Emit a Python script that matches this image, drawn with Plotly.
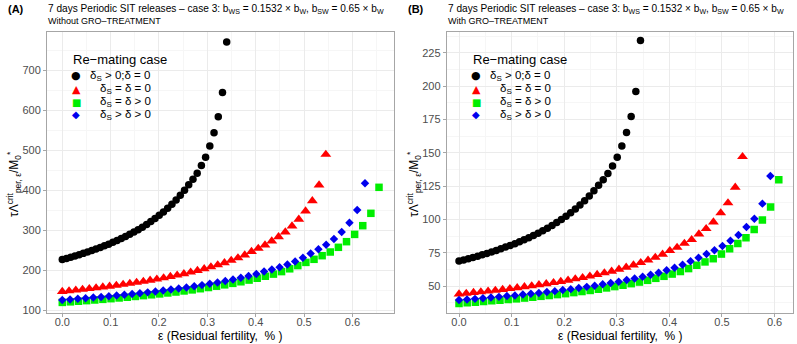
import plotly.graph_objects as go

W, H = 797, 344
FONT = "Liberation Sans, Arial, sans-serif"

# ---------------- data: panel (A) Without GRO-TREATMENT ----------------
eps_A_black = [0, 0.0087, 0.0174, 0.0262, 0.0349, 0.0436, 0.0523, 0.0610, 0.0697, 0.0785,
               0.0872, 0.0959, 0.1046, 0.1133, 0.1221, 0.1308, 0.1395, 0.1482, 0.1569, 0.1656,
               0.1744, 0.1831, 0.1918, 0.2005, 0.2092, 0.2179, 0.2267, 0.2354, 0.2441, 0.2528,
               0.2615, 0.2703, 0.2790, 0.2877, 0.2964, 0.3051, 0.3138, 0.3226, 0.3313, 0.3400]
tau_A_black = [226, 228.9, 231.9, 235.0, 238.2, 241.6, 245.0, 248.6, 252.4, 256.3,
               260.4, 264.6, 269.1, 273.7, 278.6, 283.8, 289.2, 294.8, 300.8, 307.1,
               313.8, 321.0, 328.5, 336.6, 345.2, 354.4, 364.4, 375.1, 386.7, 399.4,
               413.2, 427, 442, 461, 482, 510, 543, 583, 644, 770]

eps_A_red = [0, 0.0140, 0.0279, 0.0419, 0.0559, 0.0699, 0.0838, 0.0978, 0.1118, 0.1258,
             0.1397, 0.1537, 0.1677, 0.1817, 0.1956, 0.2096, 0.2236, 0.2376, 0.2515, 0.2655,
             0.2795, 0.2935, 0.3074, 0.3214, 0.3354, 0.3494, 0.3633, 0.3773, 0.3913, 0.4053,
             0.4192, 0.4332, 0.4472, 0.4612, 0.4751, 0.4891, 0.5031, 0.5171, 0.5310, 0.5450]
tau_A_red = [146, 147.7, 149.5, 151.3, 153.2, 155.1, 157.2, 159.3, 161.5, 163.8,
             166.3, 168.8, 171.4, 174.2, 177.1, 180.2, 183.5, 186.9, 190.5, 194.4,
             198.5, 202.9, 207.6, 212.6, 218.1, 223.9, 230.3, 237.3, 246, 254,
             262.5, 272.5, 283, 295, 310, 326.7, 347.5, 373, 412.5, 489]

eps_A_green = [0, 0.0168, 0.0336, 0.0504, 0.0672, 0.0840, 0.1008, 0.1176, 0.1344, 0.1512,
               0.1679, 0.1847, 0.2015, 0.2183, 0.2351, 0.2519, 0.2687, 0.2855, 0.3023, 0.3191,
               0.3359, 0.3527, 0.3695, 0.3863, 0.4031, 0.4199, 0.4367, 0.4535, 0.4703, 0.4871,
               0.5038, 0.5206, 0.5374, 0.5542, 0.5710, 0.5878, 0.6046, 0.6214, 0.6382, 0.6550]
tau_A_green = [119, 120.4, 121.9, 123.4, 125.0, 126.6, 128.3, 130.1, 131.9, 133.9,
               135.9, 138.0, 140.2, 142.6, 145.0, 147.6, 150.3, 153.2, 156.2, 159.5,
               162.9, 166.6, 170.6, 174.8, 179.4, 184.3, 189.7, 196, 203, 211,
               219, 226.7, 235.8, 245, 256.7, 270.8, 289, 310.8, 341.7, 406.7]

eps_A_blue = [0, 0.0161, 0.0321, 0.0482, 0.0642, 0.0803, 0.0963, 0.1124, 0.1284, 0.1445,
              0.1605, 0.1766, 0.1926, 0.2087, 0.2247, 0.2408, 0.2568, 0.2729, 0.2889, 0.3050,
              0.3210, 0.3371, 0.3531, 0.3692, 0.3852, 0.4013, 0.4173, 0.4334, 0.4494, 0.4655,
              0.4815, 0.4976, 0.5136, 0.5297, 0.5457, 0.5618, 0.5778, 0.5939, 0.6099, 0.6260]
tau_A_blue = [125, 126.4, 127.9, 129.4, 131.0, 132.6, 134.4, 136.1, 138.0, 139.9,
              141.9, 144.1, 146.3, 148.6, 151.0, 153.6, 156.3, 159.2, 162.2, 165.4,
              168.8, 172.5, 176.4, 180.5, 185.0, 190, 196, 201.5, 207, 213.5,
              221.5, 230.5, 241, 251.7, 263, 277.5, 295, 318, 350, 416.7]

# ---------------- data: panel (B) With GRO-TREATMENT ----------------
eps_B_black = [0, 0.0088, 0.0177, 0.0265, 0.0354, 0.0442, 0.0531, 0.0619, 0.0708, 0.0796,
               0.0885, 0.0973, 0.1062, 0.1150, 0.1238, 0.1327, 0.1415, 0.1504, 0.1592, 0.1681,
               0.1769, 0.1858, 0.1946, 0.2035, 0.2123, 0.2212, 0.2300, 0.2388, 0.2477, 0.2565,
               0.2654, 0.2742, 0.2831, 0.2919, 0.3008, 0.3096, 0.3185, 0.3273, 0.3362, 0.3450]
tau_B_black = [68.7, 69.6, 70.5, 71.4, 72.4, 73.4, 74.5, 75.6, 76.7, 77.9,
               79.2, 80.4, 81.8, 83.2, 84.7, 86.3, 87.9, 89.6, 91.4, 93.4,
               95.4, 97.6, 99.9, 102.3, 104.9, 107.7, 110.8, 114.0, 117.6, 121.4,
               125.6, 129.8, 134.4, 140.1, 146.5, 155.0, 165.1, 177.2, 195.8, 234.1]

eps_B_red = [0, 0.0138, 0.0276, 0.0415, 0.0553, 0.0691, 0.0829, 0.0967, 0.1106, 0.1244,
             0.1382, 0.1520, 0.1659, 0.1797, 0.1935, 0.2073, 0.2211, 0.2350, 0.2488, 0.2626,
             0.2764, 0.2902, 0.3041, 0.3179, 0.3317, 0.3455, 0.3594, 0.3732, 0.3870, 0.4008,
             0.4146, 0.4285, 0.4423, 0.4561, 0.4699, 0.4837, 0.4976, 0.5114, 0.5252, 0.5390]
tau_B_red = [44.0, 44.5, 45.1, 45.6, 46.2, 46.7, 47.4, 48.0, 48.7, 49.4,
             50.1, 50.9, 51.7, 52.5, 53.4, 54.3, 55.3, 56.3, 57.4, 58.6,
             59.8, 61.1, 62.6, 64.1, 65.7, 67.5, 69.4, 71.5, 73.8, 76.5,
             79, 82, 84.8, 89, 93, 98, 104.8, 112.3, 124, 147]

eps_B_green = [0, 0.0156, 0.0312, 0.0468, 0.0624, 0.0779, 0.0935, 0.1091, 0.1247, 0.1403,
               0.1559, 0.1715, 0.1871, 0.2027, 0.2183, 0.2338, 0.2494, 0.2650, 0.2806, 0.2962,
               0.3118, 0.3274, 0.3430, 0.3586, 0.3742, 0.3897, 0.4053, 0.4209, 0.4365, 0.4521,
               0.4677, 0.4833, 0.4989, 0.5145, 0.5301, 0.5456, 0.5612, 0.5768, 0.5924, 0.6080]
tau_B_green = [37.0, 37.4, 37.9, 38.4, 38.9, 39.4, 39.9, 40.4, 41.0, 41.6,
               42.3, 42.9, 43.6, 44.3, 45.1, 45.9, 46.7, 47.6, 48.6, 49.6,
               50.6, 51.8, 53.0, 54.3, 55.8, 57.3, 59.0, 60.9, 63.1, 65.6,
               68.1, 70.5, 74.0, 78.0, 82, 86.3, 92.5, 99.5, 109.3, 129.8]

eps_B_blue = [0, 0.0152, 0.0304, 0.0455, 0.0607, 0.0759, 0.0911, 0.1063, 0.1214, 0.1366,
              0.1518, 0.1670, 0.1822, 0.1973, 0.2125, 0.2277, 0.2429, 0.2580, 0.2732, 0.2884,
              0.3036, 0.3188, 0.3339, 0.3491, 0.3643, 0.3795, 0.3947, 0.4098, 0.4250, 0.4402,
              0.4554, 0.4706, 0.4857, 0.5009, 0.5161, 0.5313, 0.5465, 0.5616, 0.5768, 0.5920]
tau_B_blue = [39.5, 39.9, 40.4, 40.9, 41.4, 41.9, 42.5, 43.0, 43.6, 44.2,
              44.8, 45.5, 46.2, 47.0, 47.7, 48.5, 49.4, 50.3, 51.3, 52.3,
              53.3, 54.5, 55.7, 57.0, 58.5, 60.0, 61.9, 63.7, 66.0, 68.6,
              71.2, 74.0, 76.8, 80, 84, 88.3, 94.3, 100.5, 111.8, 132.5]

case_labels = ["δ<sub>S</sub> > 0;δ = 0", "δ<sub>S</sub> = δ = 0",
               "δ<sub>S</sub> = δ > 0", "δ<sub>S</sub> > δ > 0"]
case_names = ["dS>0;d=0", "dS=d=0", "dS=d>0", "dS>d>0"]
x_tick_vals = [0, 0.1, 0.2, 0.3, 0.4, 0.5, 0.6]
x_tick_text = ["0.0", "0.1", "0.2", "0.3", "0.4", "0.5", "0.6"]
y_ticks_A = [100, 200, 300, 400, 500, 600, 700]
y_ticks_B = [50, 75, 100, 125, 150, 175, 200, 225]

# ---------------- styles ----------------
colors = ["#000000", "#FF0000", "#00EE00", "#0000EE"]
symbols = ["circle", "triangle-up", "square", "diamond"]
sizes = [7.5, 9.5, 7.5, 6.5]
glyphs = ["●", "▲", "■", "◆"]

def px(x):
    return x / W

def py(y):
    return 1 - y / H

fig = go.Figure()
panels = [
    ("x", "y", [(eps_A_black, tau_A_black), (eps_A_red, tau_A_red),
                (eps_A_green, tau_A_green), (eps_A_blue, tau_A_blue)]),
    ("x2", "y2", [(eps_B_black, tau_B_black), (eps_B_red, tau_B_red),
                  (eps_B_green, tau_B_green), (eps_B_blue, tau_B_blue)]),
]
for xa, ya, series in panels:
    for k, (xs, ys) in enumerate(series):
        fig.add_trace(go.Scatter(
            x=xs, y=ys, mode="markers", xaxis=xa, yaxis=ya, name=case_names[k],
            showlegend=False,
            marker=dict(symbol=symbols[k], size=sizes[k], color=colors[k],
                        line=dict(width=0)),
        ))

GRID = "#EBEBEB"
MINOR = "#F6F6F6"
LINE = "#A6A6A6"
TICKFONT = dict(family=FONT, size=11, color="#4D4D4D")

def xax(domain, rng, anchor):
    return dict(domain=domain, range=rng, anchor=anchor, tickvals=x_tick_vals,
                ticktext=x_tick_text, showline=True, mirror=True, linecolor=LINE,
                linewidth=1, ticks="outside", ticklen=3, tickcolor=LINE,
                ticklabelstandoff=-4,
                showgrid=True, gridcolor=GRID, gridwidth=1, zeroline=False,
                tickfont=TICKFONT,
                minor=dict(tickvals=[0.05, 0.15, 0.25, 0.35, 0.45, 0.55, 0.65],
                           showgrid=True, gridcolor=MINOR, ticks=""),
                automargin=False)

def yax(domain, rng, anchor, ticks, minor_ticks):
    return dict(domain=domain, range=rng, anchor=anchor, tickvals=ticks,
                showline=True, mirror=True, linecolor=LINE, linewidth=1,
                ticks="outside", ticklen=3, tickcolor=LINE, showgrid=True,
                gridcolor=GRID, gridwidth=1, zeroline=False, tickfont=TICKFONT,
                minor=dict(tickvals=minor_ticks, showgrid=True, gridcolor=MINOR,
                           ticks=""),
                automargin=False)

ydom = [py(313), py(32)]
fig.update_layout(
    width=W, height=H, margin=dict(l=0, r=0, t=0, b=0),
    paper_bgcolor="white", plot_bgcolor="white",
    font=dict(family=FONT, color="#000000"),
    showlegend=False,
    xaxis=xax([px(47), px(394)], [-0.0316, 0.686], "y"),
    yaxis=yax(ydom, [92.5, 795], "x", y_ticks_A, [150, 250, 350, 450, 550, 650, 750]),
    xaxis2=xax([px(446.7), px(793)], [-0.0234, 0.635], "y2"),
    yaxis2=yax(ydom, [29.8, 240.5], "x2", y_ticks_B,
               [37.5, 62.5, 87.5, 112.5, 137.5, 162.5, 187.5, 212.5, 237.5]),
)

ann = []
title_txt = ("7 days Periodic SIT releases \u2013 case 3: b<sub>WS</sub> = 0.1532 \u00d7 b<sub>W</sub>, "
             "b<sub>SW</sub> = 0.65 \u00d7 b<sub>W</sub>")
ytitle = "τΛ<sup>crit</sup><sub>per, ε</sub>/M<sub>0</sub><sup>*</sup>"
xtitle = "ε (Residual fertility,\u00a0\u00a0% )"
for off, tag, sub in [(0, "(A)", "Without GRO\u2013TREATMENT"),
                      (400, "(B)", "With GRO\u2013TREATMENT")]:
    ann.append(dict(text="<b>" + tag + "</b>", x=px(off + 6), y=py(9), xref="paper",
                    yref="paper", xanchor="left", yanchor="middle", showarrow=False,
                    font=dict(family=FONT, size=11, color="#000000")))
    ann.append(dict(text=title_txt, x=px(off + 46), y=py(9), xref="paper",
                    yref="paper", xanchor="left", yanchor="middle", showarrow=False,
                    font=dict(family=FONT, size=10.1, color="#000000")))
    ann.append(dict(text=sub, x=px(off + 46), y=py(21), xref="paper",
                    yref="paper", xanchor="left", yanchor="middle", showarrow=False,
                    font=dict(family=FONT, size=9, color="#000000")))
    ann.append(dict(text=ytitle, x=px(off + 14), y=py(184), xref="paper",
                    yref="paper", xanchor="center", yanchor="middle", showarrow=False,
                    textangle=-90, font=dict(family=FONT, size=12, color="#000000")))
    ann.append(dict(text=xtitle, x=px(off + 220), y=py(335.5), xref="paper",
                    yref="paper", xanchor="center", yanchor="middle", showarrow=False,
                    font=dict(family=FONT, size=12, color="#000000")))
    # legend
    ann.append(dict(text="Re\u2212mating case", x=px(off + 71), y=py(60), xref="paper",
                    yref="paper", xanchor="left", yanchor="middle", showarrow=False,
                    font=dict(family=FONT, size=13, color="#000000")))
    item_y = [75.7, 89, 102.3, 115]
    gsize = [11, 11, 10, 10]
    for k in range(4):
        ann.append(dict(text=glyphs[k], x=px(off + 76), y=py(item_y[k]), xref="paper",
                        yref="paper", xanchor="center", yanchor="middle",
                        showarrow=False,
                        font=dict(family="DejaVu Sans", size=gsize[k], color=colors[k])))
        ann.append(dict(text=case_labels[k], x=px(off + (88 if k == 0 else 97.5)),
                        y=py(item_y[k]), xref="paper", yref="paper", xanchor="left",
                        yanchor="middle", showarrow=False,
                        font=dict(family=FONT, size=11.5, color="#000000")))
fig.update_layout(annotations=ann)

fig.write_html(
    "out.html",
    config={"displayModeBar": False},
    post_script="document.body.style.margin='0';document.body.style.padding='0';"
                "document.documentElement.style.overflow='hidden';",
)
